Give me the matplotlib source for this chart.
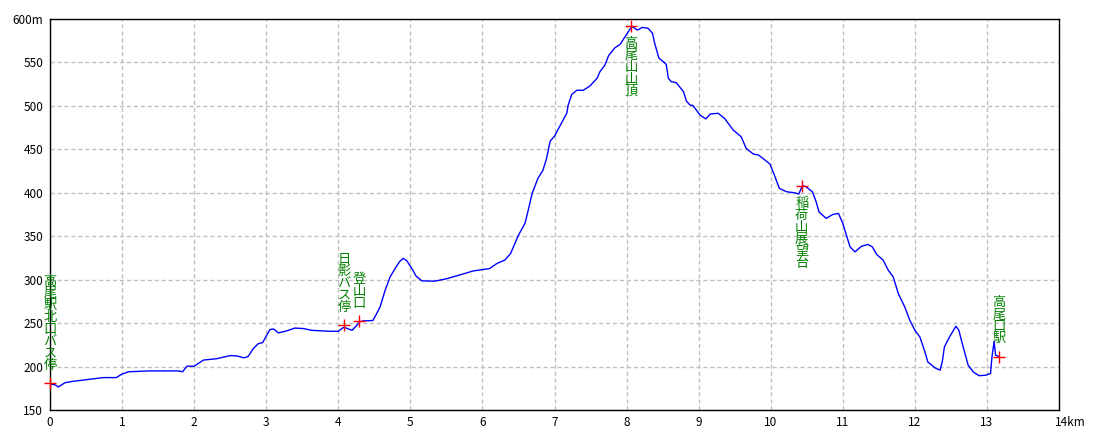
import matplotlib
matplotlib.use("Agg")
import matplotlib.pyplot as plt
import matplotlib.transforms as mtransforms

plt.rcParams["font.family"] = ["Noto Sans CJK JP", "DejaVu Sans"]

# elevation profile (km, m)
DIST_KM = [0.0, 0.07, 0.115, 0.21, 0.32, 0.51, 0.74, 0.92, 0.99, 1.09,
           1.39, 1.78, 1.84, 1.90, 2.0, 2.13, 2.31, 2.5, 2.59, 2.69,
           2.75, 2.82, 2.89, 2.95, 3.05, 3.1, 3.17, 3.28, 3.4, 3.52,
           3.63, 3.88, 4.0, 4.07, 4.1, 4.19, 4.23, 4.30, 4.34, 4.48,
           4.52, 4.58, 4.65, 4.72, 4.79, 4.85, 4.9, 4.95, 5.02, 5.08,
           5.16, 5.34, 5.5, 5.73, 5.87, 6.1, 6.2, 6.31, 6.39, 6.5,
           6.59, 6.63, 6.69, 6.77, 6.84, 6.89, 6.94, 7.0, 7.07, 7.17,
           7.19, 7.24, 7.31, 7.4, 7.49, 7.59, 7.63, 7.7, 7.75, 7.84,
           7.91, 7.98, 8.05, 8.08, 8.15, 8.22, 8.3, 8.36, 8.39, 8.45,
           8.51, 8.55, 8.58, 8.62, 8.69, 8.79, 8.83, 8.88, 8.92, 9.02,
           9.1, 9.16, 9.27, 9.36, 9.48, 9.59, 9.66, 9.76, 9.83, 9.92,
           9.99, 10.06, 10.12, 10.22, 10.33, 10.39, 10.44, 10.49, 10.58, 10.63,
           10.67, 10.77, 10.86, 10.94, 11.0, 11.05, 11.1, 11.17, 11.26, 11.35,
           11.41, 11.47, 11.56, 11.63, 11.7, 11.77, 11.86, 11.93, 12.0, 12.07,
           12.14, 12.18, 12.28, 12.35, 12.38, 12.41, 12.48, 12.57, 12.61, 12.67,
           12.74, 12.81, 12.89, 12.98, 13.05, 13.07, 13.1, 13.12, 13.17]
ELEV_M = [180, 179, 176.5, 181.5, 183, 185, 187.3, 187.3, 191, 194,
          195, 195, 194, 200.4, 200.4, 207.5, 209, 212.6, 212.3, 210,
          211.7, 220.6, 226.4, 227.5, 242.5, 243.3, 238.7, 241, 244.3, 243.7,
          241.7, 240.6, 240.6, 245, 244.6, 241.7, 245, 251.5, 252.5, 253,
          259, 268.6, 287.8, 303.4, 313, 320.7, 324.6, 321.8, 313, 304,
          298.6, 298.3, 301, 306.5, 310, 312.8, 318.6, 322.5, 330, 351.2,
          364.7, 378, 399.3, 416.6, 426, 439.5, 459.5, 465.2, 476, 491.5,
          501, 513.3, 518, 518, 522.8, 531.7, 539.3, 547, 557.8, 567,
          570.8, 579.6, 588.6, 591.2, 587.3, 590.4, 589.2, 583.5, 572, 554.8,
          550.9, 547.8, 531.7, 527.9, 526.7, 516.3, 505.6, 501, 500.5, 489.4,
          485, 490.6, 491.5, 485.6, 472.2, 464.5, 451, 444.5, 443.5, 437.7,
          433, 418.4, 405, 401.2, 400, 398.6, 408.2, 407, 401, 389.7,
          378, 370.5, 375, 376.3, 364.8, 351.3, 337.8, 332, 338.5, 340.5,
          337.8, 329, 322.5, 311, 303.2, 284, 268.6, 253.3, 241.8, 234,
          216.8, 205.3, 198.5, 195.8, 205.3, 222.6, 234, 246.4, 241.8, 222.6,
          201.5, 193.8, 189.5, 190, 192, 211.2, 229, 213, 211.5]

# waypoints
WP_NAMES = ["高尾駅北口バス停", "日影バス停", "登山口", "高尾山山頂", "稲荷山展望台", "高尾口駅"]
WP_KM = [0.0, 4.08, 4.29, 8.06, 10.43, 13.17]
WP_M = [181, 248, 252, 592, 408, 211.5]
WP_SIDE = ["above", "above", "above", "below", "below", "above"]

X_TICKS = list(range(0, 15))
X_LABELS = [str(v) for v in range(0, 14)] + ["14km"]
Y_TICKS = list(range(150, 601, 50))
Y_LABELS = [str(v) for v in range(150, 600, 50)] + ["600m"]

fig = plt.figure(figsize=(11, 4.4), dpi=100)
ax = fig.add_axes([50 / 1100, 30 / 440, 1009 / 1100, 391 / 440])

ax.plot(DIST_KM, ELEV_M, color="#0000ff", lw=1.0, zorder=3)
ax.plot(WP_KM, WP_M, linestyle="none", marker="+", color="#ff0000",
        ms=9, mew=1.0, zorder=4, clip_on=False)

for name, km, m, side in zip(WP_NAMES, WP_KM, WP_M, WP_SIDE):
    vertical = "\n".join(name)
    dy, va = (8, "bottom") if side == "above" else (-8, "top")
    ax.annotate(vertical, (km, m), xytext=(0, dy), textcoords="offset points",
                ha="center", va=va, color="#008000", fontsize=9.5,
                linespacing=0.9, annotation_clip=False, zorder=5)

ax.set_xlim(0, 14)
ax.set_ylim(150, 600)
ax.set_xticks(X_TICKS)
ax.set_xticklabels(X_LABELS)
ax.set_yticks(Y_TICKS)
ax.set_yticklabels(Y_LABELS)
ax.tick_params(length=0, labelsize=8.5, colors="black")
ax.tick_params(axis="x", pad=4)
ax.tick_params(axis="y", pad=5)

# "14km" hangs to the right of its tick
last = ax.get_xticklabels()[-1]
last.set_horizontalalignment("left")
last.set_transform(last.get_transform() + mtransforms.ScaledTranslation(-4 / 100, 0, fig.dpi_scale_trans))

ax.grid(True, color="#c0c0c0", linestyle=(0, (3, 2)), lw=1.0)
ax.set_axisbelow(True)
for sp in ax.spines.values():
    sp.set_color("black")
    sp.set_linewidth(1.0)

fig.savefig("out.png", dpi=100, facecolor="white")
